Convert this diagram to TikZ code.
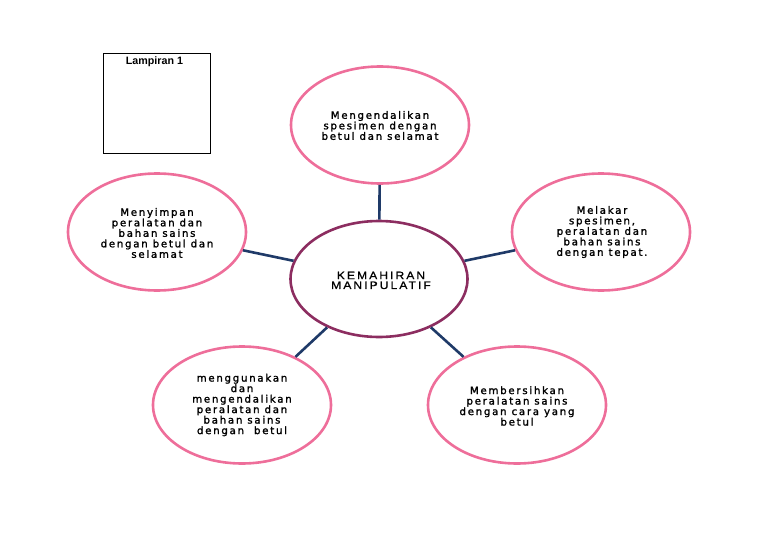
\documentclass[tikz,border=0pt]{standalone}
\usepackage{fontspec}
\setmainfont{Liberation Sans}
\newfontfamily\spacedfont[LetterSpace=17,FakeBold=1.6]{DejaVu Sans}
\newfontfamily\centerfont[LetterSpace=19,FakeBold=0.8,FakeStretch=1.12]{Liberation Sans}
\usetikzlibrary{shapes.geometric}
\definecolor{pinkline}{HTML}{EE6E9A}
\definecolor{plumline}{HTML}{8C2D60}
\definecolor{navyline}{HTML}{1F3A68}
\tikzset{
  pinkell/.style={ellipse, draw=pinkline, line width=2.6pt, minimum width=178pt, minimum height=117pt, inner sep=0pt},
  centerell/.style={ellipse, draw=plumline, line width=2.6pt, minimum width=177pt, minimum height=116pt, inner sep=0pt},
  pinktext/.style={align=center, font=\spacedfont\fontsize{10.2}{10.5}\selectfont, inner sep=0pt},
  centertext/.style={align=center, font=\centerfont\fontsize{10.8}{9.8}\selectfont, inner sep=0pt},
  link/.style={draw=navyline, line width=2.6pt}
}
\begin{document}
\begin{tikzpicture}[x=1pt,y=-1pt]
\useasboundingbox (0,0) rectangle (768,543);
% Lampiran box
\node[draw=black, line width=0.8pt, minimum width=107.5pt, minimum height=100pt, inner sep=0pt] (lamp) at (157,103.3) {};
\node[font=\bfseries\fontsize{10.7}{11}\selectfont, inner sep=0pt, anchor=base] (lamptext) at (154.5,64.3) {Lampiran 1};
% ellipses
\node[centerell] (c) at (379,279) {};
\node[pinkell] (top) at (380,125) {};
\node[pinkell] (left) at (157,232) {};
\node[pinkell] (right) at (601,232) {};
\node[pinkell] (bl) at (242,405) {};
\node[pinkell] (br) at (517,405) {};
% texts
\node[centertext] (ct) at (381,280.4) {KEMAHIRAN\\MANIPULATIF};
\node[pinktext] (tt) at (380,125.5) {Mengendalikan\\spesimen dengan\\betul dan selamat};
\node[pinktext] (lt) at (157,233) {Menyimpan\\peralatan dan\\bahan sains\\dengan betul dan\\selamat};
\node[pinktext] (rt) at (602,232) {Melakar\\spesimen,\\peralatan dan\\bahan sains\\dengan tepat.};
\node[pinktext] (blt) at (242,405) {menggunakan\\dan\\mengendalikan\\peralatan dan\\bahan sains\\dengan \ betul};
\node[pinktext] (brt) at (517,406) {Membersihkan\\peralatan sains\\dengan cara yang\\betul};
% connectors
\draw[link] (top) -- (c);
\draw[link] (left.-12) -- (c.168);
\draw[link] (right.192) -- (c.12);
\draw[link] (bl.42) -- (c.223);
\draw[link] (br.138) -- (c.317);
\end{tikzpicture}
\end{document}
